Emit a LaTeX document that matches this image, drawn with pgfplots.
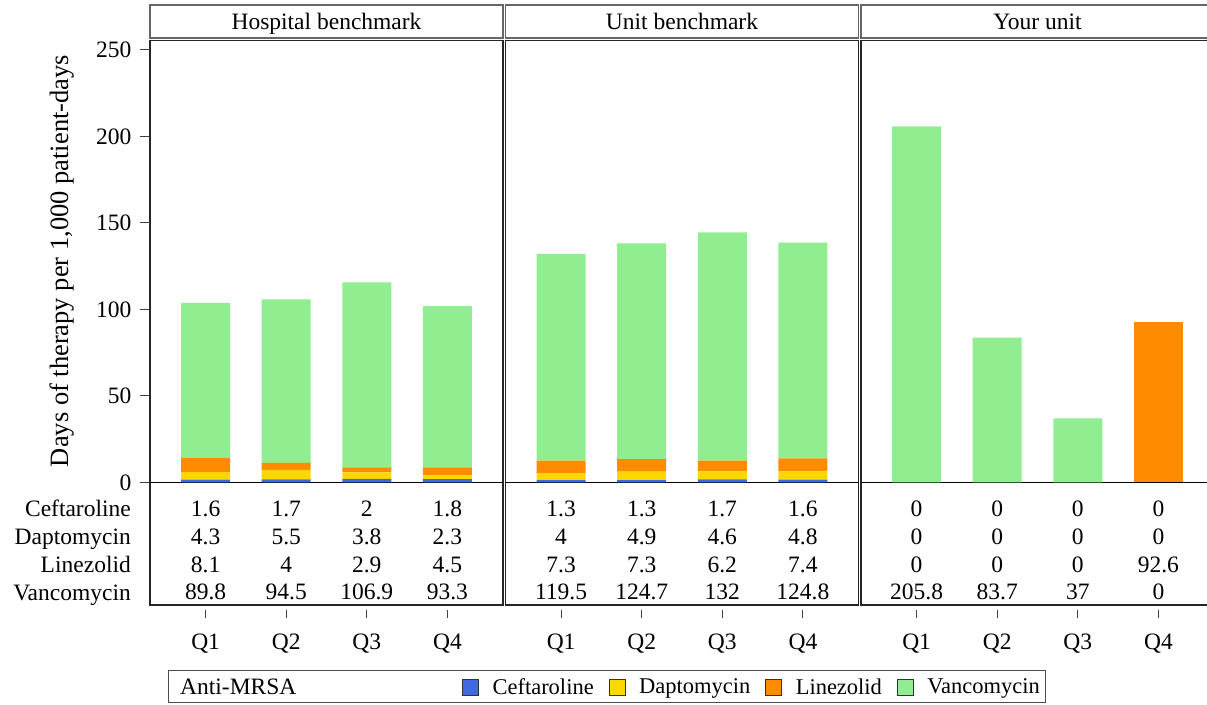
\documentclass[border=0pt]{standalone}
\usepackage{pgfplots}
\pgfplotsset{compat=1.18}
\usepackage{pgfplotstable}
\usepackage{fontspec}
\setmainfont{Liberation Serif}

\definecolor{cef}{RGB}{65,105,225}
\definecolor{dap}{RGB}{255,215,0}
\definecolor{lin}{RGB}{255,140,0}
\definecolor{van}{RGB}{144,238,144}
\newcommand\fs{\fontsize{23.5}{28}\selectfont}

% days of therapy per 1,000 patient-days, by quarter
\pgfplotstableread{
Q Cef Dap Lin Van
1 1.6 4.3 8.1 89.8
2 1.7 5.5 4 94.5
3 2 3.8 2.9 106.9
4 1.8 2.3 4.5 93.3
}\hosp
\pgfplotstableread{
Q Cef Dap Lin Van
1 1.3 4 7.3 119.5
2 1.3 4.9 7.3 124.7
3 1.7 4.6 6.2 132
4 1.6 4.8 7.4 124.8
}\unit
\pgfplotstableread{
Q Cef Dap Lin Van
1 0 0 0 205.8
2 0 0 0 83.7
3 0 0 0 37
4 0 0 92.6 0
}\yours

\pgfplotsset{
  panel/.style={at={(#1pt,-605pt)}, anchor=south west, scale only axis,
    width=353pt, height=564.3pt, xmin=0.31, xmax=4.69, ymin=-70.9, ymax=255.3,
    clip=false},
  bars/.style={panel=#1, ybar stacked, bar width=49pt,
    axis line style={black!85, line width=1.1pt},
    xtick=\empty, ytick pos=left,
    tick align=outside, major tick length=10.5pt,
    tick style={black!75, line width=1pt},
    yticklabel style={font=\fs, xshift=-4.5pt},
    /pgf/number format/assume math mode=true,
    ytick=\empty},
  vals/.style={panel=#1, axis x line*=bottom, axis y line=none,
    axis x line shift=4.5pt, x axis line style={draw=none},
    xtick={1,2,3,4}, xticklabels={Q1,Q2,Q3,Q4},
    tick align=outside, major tick length=8.5pt,
    tick style={black!75, line width=1pt},
    xticklabel style={font=\fs, yshift=-12.5pt}, ytick=\empty},
  row/.style={draw=none, mark=none, point meta=explicit symbolic,
    nodes near coords={\pgfplotspointmeta},
    nodes near coords style={font=\fs, anchor=base, inner sep=0pt}},
}

\newcommand\panel[3]{%
  \begin{axis}[bars=#1, #3]
    \addplot[fill=cef, draw=none] table[x=Q, y=Cef]{#2};
    \addplot[fill=dap, draw=none] table[x=Q, y=Dap]{#2};
    \addplot[fill=lin, draw=none] table[x=Q, y=Lin]{#2};
    \addplot[fill=van, draw=none] table[x=Q, y=Van]{#2};
    \draw[black, line width=1.1pt] (axis cs:0.31,0) -- (axis cs:4.69,0);
  \end{axis}
  \begin{axis}[vals=#1]
    \addplot[row] table[x=Q, y expr=-19.9, meta=Cef]{#2};
    \addplot[row] table[x=Q, y expr=-35.9, meta=Dap]{#2};
    \addplot[row] table[x=Q, y expr=-51.9, meta=Lin]{#2};
    \addplot[row] table[x=Q, y expr=-68.0, meta=Van]{#2};
  \end{axis}}

\begin{document}
\begin{tikzpicture}[font=\fs]
\panel{150}{\hosp}{ytick={0,50,...,250}}
\panel{505.5}{\unit}{}
\panel{861}{\yours}{}

% strip headers
\foreach \x/\t in {150/Hospital benchmark, 505.5/Unit benchmark, 861/Your unit} {
  \draw[black!60, line width=1.1pt] (\x pt,-5pt) rectangle ++(353pt,-33pt);
  \node[anchor=base] at (\x pt+176.5pt,-29.5pt) {\t};
}

\node[rotate=90, anchor=base, font=\fontsize{26.5}{30}\selectfont] at (68pt,-261pt)
  {Days of therapy per 1,000 patient-days};
\foreach \y/\t in {516.7/Ceftaroline, 544.3/Daptomycin, 572/Linezolid, 600/Vancomycin}
  \node[anchor=base east, inner sep=0pt] at (131pt,-\y pt) {\t};

% legend
\draw[black!70, line width=1pt] (168pt,-670pt) rectangle (1045pt,-702.5pt);
\node[anchor=base west, inner sep=0pt] at (180pt,-694pt) {Anti-MRSA};
\begin{axis}[panel=150, axis lines=none, xtick=\empty, ytick=\empty,
  legend style={at={(2.527,-0.1453)}, anchor=east, draw=none, fill=none,
    font=\fontsize{22.5}{27}\selectfont, legend columns=4, inner sep=0pt,
    /tikz/every odd column/.append style={column sep=12pt},
    /tikz/every even column/.append style={column sep=13pt}}]
  \addlegendimage{legend image code/.code={\draw[fill=cef, draw=black!80] (0pt,-8pt) rectangle (16pt,8pt);}}
  \addlegendentry{Ceftaroline}
  \addlegendimage{legend image code/.code={\draw[fill=dap, draw=black!80] (0pt,-8pt) rectangle (16pt,8pt);}}
  \addlegendentry{Daptomycin}
  \addlegendimage{legend image code/.code={\draw[fill=lin, draw=black!80] (0pt,-8pt) rectangle (16pt,8pt);}}
  \addlegendentry{Linezolid}
  \addlegendimage{legend image code/.code={\draw[fill=van, draw=black!80] (0pt,-8pt) rectangle (16pt,8pt);}}
  \addlegendentry{Vancomycin}
\end{axis}

\pgfresetboundingbox
\useasboundingbox (0,0) rectangle (1207pt,-704pt);
\end{tikzpicture}
\end{document}
